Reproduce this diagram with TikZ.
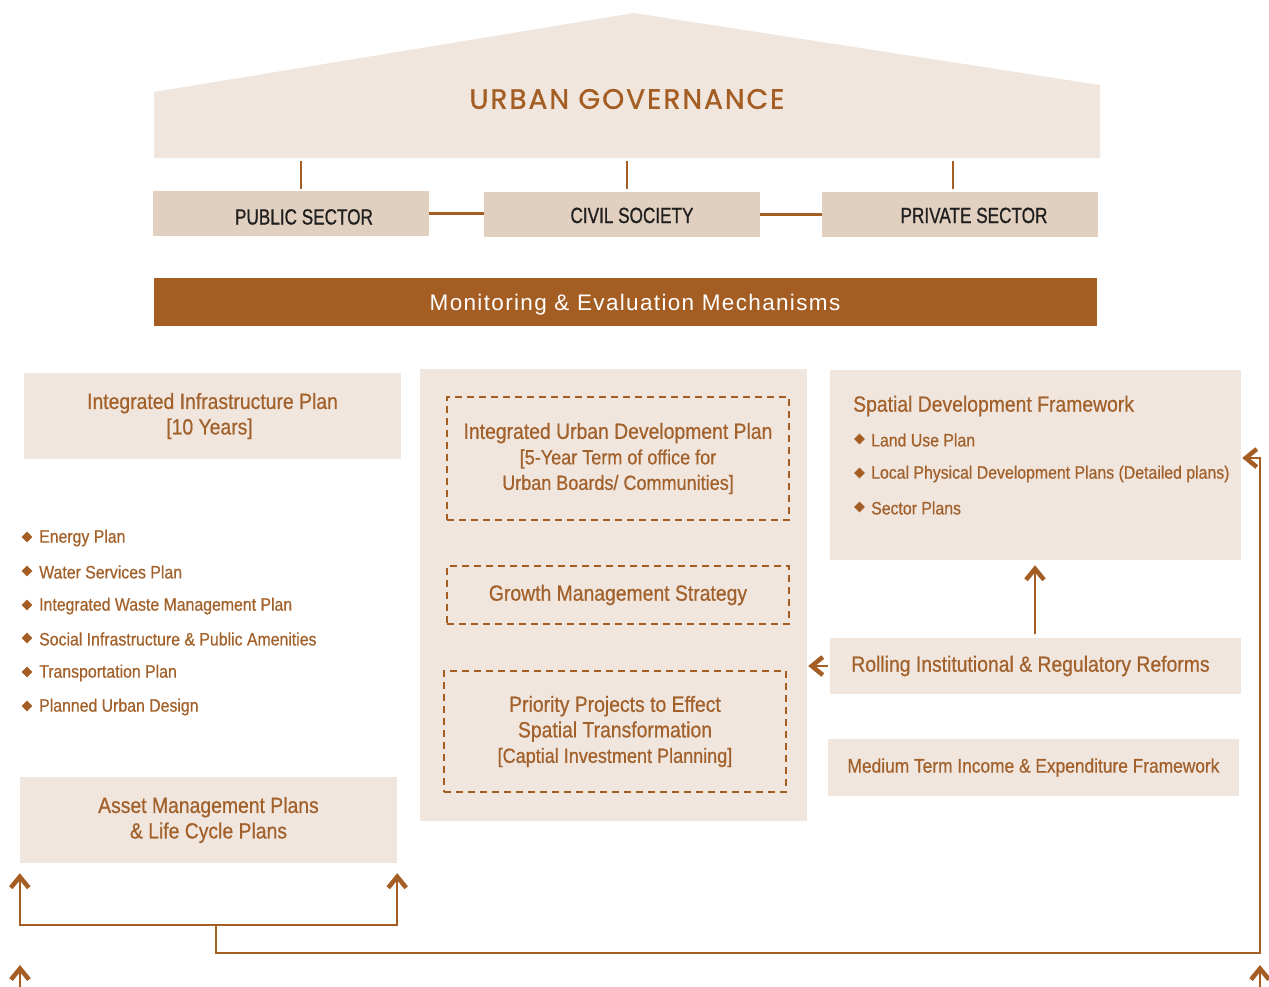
\documentclass[tikz,border=0pt]{standalone}
\usepackage{fontspec}
\setmainfont{Liberation Sans}
\newfontfamily\condf[FakeStretch=0.88,FakeBold=0.6]{Liberation Sans}
\newfontfamily\capf[FakeStretch=0.78,FakeBold=0.8]{Liberation Sans}
\newfontfamily\govf[LetterSpace=7,FakeBold=1.2]{Poppins}
\newfontfamily\monf[LetterSpace=6]{Liberation Sans}
\usetikzlibrary{arrows.meta,shapes.geometric}
\definecolor{brn}{HTML}{A45D23}
\definecolor{txtb}{HTML}{A2602A}
\definecolor{lite}{HTML}{F0E6DE}
\definecolor{sect}{HTML}{E1CFBF}
\newcommand{\ttlf}{\condf\fontsize{22}{25.5}\selectfont}
\newcommand{\subf}{\condf\fontsize{20.5}{25.5}\selectfont}
\begin{document}
\begin{tikzpicture}[x=1pt,y=-1pt,
  box/.style={fill=lite, draw=none, inner sep=0pt, text=txtb, align=center, font=\ttlf},
  sector/.style={fill=sect, inner sep=0pt, minimum width=276pt, minimum height=45pt, text=black!88, font=\capf\fontsize{22}{26}\selectfont, text depth=0pt},
  dbox/.style={draw=brn, dash pattern=on 7pt off 5pt, line width=1.2pt, inner sep=0pt, text=txtb, align=center, font=\ttlf},
  bul/.style={text=txtb, font=\condf\fontsize{18}{20}\selectfont, anchor=west, inner sep=0pt},
  dia/.style={diamond, fill=brn, inner sep=0pt, minimum size=11pt},
  conn/.style={draw=brn, line width=2.4pt},
  arr/.style={draw=brn, line width=2.4pt, -{Straight Barb[length=11pt,width=18pt,line width=4.5pt]}}
]
\useasboundingbox (0,0) rectangle (1269,986);

% house
\fill[lite] (154,92) -- (634,13) -- (1100,85) -- (1100,158) -- (154,158) -- cycle;
\node[text=brn, font=\govf\fontsize{28}{30}\selectfont] (gov) at (627,99) {URBAN GOVERNANCE};

% sectors
\node[sector, text height=22pt] (pub) at (291,213.5) {\hspace*{26pt}PUBLIC SECTOR};
\node[sector, text height=17pt] (civ) at (622,214.5) {\hspace*{20pt}CIVIL SOCIETY};
\node[sector, text height=17pt] (priv) at (960,214.5) {\hspace*{28pt}PRIVATE SECTOR};
\coordinate (h1) at (301,161);
\coordinate (h2) at (627,161);
\coordinate (h3) at (953,161);
\draw[conn, shorten >=2pt] (h1) -- (h1 |- pub.north);
\draw[conn, shorten >=3pt] (h2) -- (h2 |- civ.north);
\draw[conn, shorten >=3pt] (h3) -- (h3 |- priv.north);
\draw[conn] (pub.east) -- (pub.east -| civ.west);
\draw[conn] (civ.east) -- (civ.east -| priv.west);

% monitoring bar
\node[fill=brn, minimum width=943pt, minimum height=48pt, inner sep=0pt, text=white, text height=20pt, text depth=4pt,
  font=\monf\fontsize{22.5}{26}\selectfont] (mon) at (625.5,302) {\hspace*{19pt}Monitoring \& Evaluation Mechanisms};

% left column
\node[box, minimum width=377pt, minimum height=86pt] (iip) at (212.5,416)
  {Integrated Infrastructure Plan\\\hspace*{-6pt}[10 Years]};
\foreach \i/\yy/\t in {1/538/Energy Plan, 2/572/Water Services Plan, 3/606/Integrated Waste Management Plan,
  4/639/Social Infrastructure \& Public Amenities, 5/673/Transportation Plan, 6/707/Planned Urban Design}{
  \node[dia] (ld\i) at (27,\yy-1) {};
  \node[bul] (lb\i) at (39,\yy) {\t};
}
\node[box, minimum width=377pt, minimum height=86pt] (amp) at (208.5,820)
  {Asset Management Plans\\\& Life Cycle Plans};

% center column
\node[box, minimum width=387pt, minimum height=452pt] (col) at (613.5,595) {};
\node[dbox, minimum width=342pt, minimum height=123pt] (iudp) at (618,458.5)
  {Integrated Urban Development Plan\\{\subf [5-Year Term of office for}\\{\subf Urban Boards/ Communities]}};
\node[dbox, minimum width=342pt, minimum height=58pt] (gms) at (618,595)
  {Growth Management Strategy};
\node[dbox, minimum width=342pt, minimum height=121pt] (pp) at (615,731.5)
  {Priority Projects to Effect\\Spatial Transformation\\{\subf [Captial Investment Planning]}};

% right column
\node[box, minimum width=411pt, minimum height=190pt] (sdf) at (1035.5,465) {};
\node[bul, font=\ttlf] (sdft) at (853,406) {Spatial Development Framework};
\foreach \i/\yy/\t in {1/440/Land Use Plan, 2/474/Local Physical Development Plans (Detailed plans), 3/508/Sector Plans}{
  \node[dia] (rd\i) at (859.5,\yy-1) {};
  \node[bul] (rb\i) at (871,\yy) {\t};
}
\node[box, minimum width=411pt, minimum height=56pt] (rir) at (1035.5,666)
  {\hspace*{-10pt}Rolling Institutional \& Regulatory Reforms};
\node[box, minimum width=411pt, minimum height=57pt, font=\condf\fontsize{19.7}{22}\selectfont] (mtie) at (1033.5,767.5)
  {Medium Term Income \& Expenditure Framework};

% arrows right
\draw[arr, shorten <=4pt, shorten >=5pt] (rir.north -| 1035,0) -- (sdf.south -| 1035,0);
\draw[arr, shorten <=2pt, shorten >=1pt] (rir.west) -- (rir.west -| col.east);

% bottom loop
\coordinate (jt) at (216,925);
\coordinate (jb) at (216,953);
\coordinate (jr) at (1260,953);
\draw[arr, line width=2.2pt, shorten >=10pt] (jt) -| (amp.south west);
\draw[arr, line width=2.2pt, shorten >=10pt] (jt) -| (amp.south east);
\draw[arr, line width=2.2pt, shorten >=1pt] (jt) -- (jb) -- (jr) |- ([yshift=7pt]sdf.east);

% partial arrows at bottom edge
\coordinate (bl0) at (20,995);
\coordinate (bl1) at (20,965);
\coordinate (br0) at (1260,995);
\coordinate (br1) at (1260,965);
\draw[arr] (bl0) -- (bl1);
\draw[arr] (br0) -- (br1);
\end{tikzpicture}
\end{document}
